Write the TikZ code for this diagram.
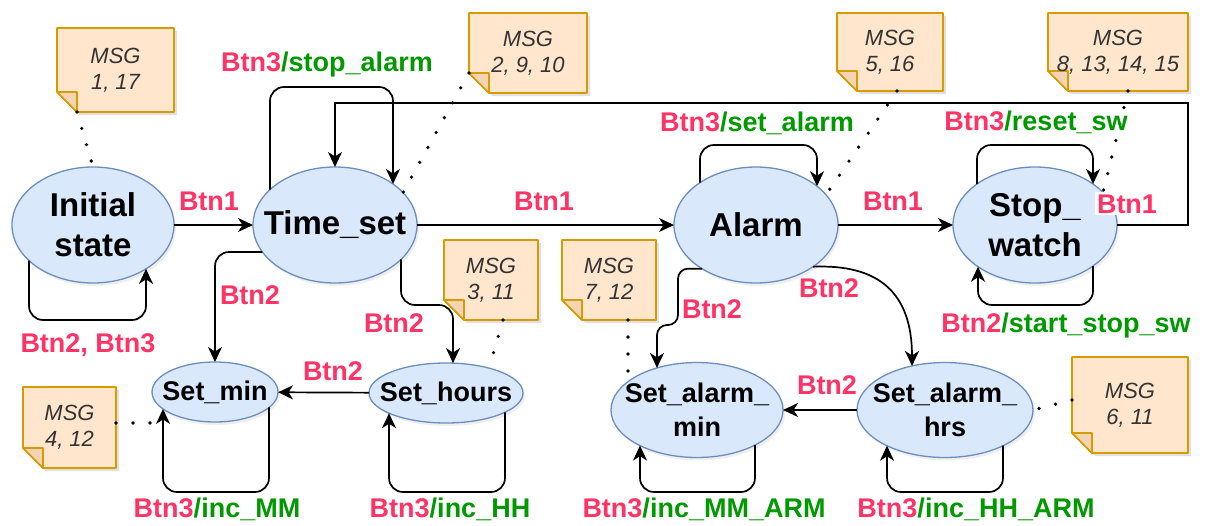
\documentclass[tikz,border=0pt]{standalone}
\usepackage{fontspec}
\setmainfont{Liberation Sans}
\usetikzlibrary{shapes.geometric,arrows.meta,calc,backgrounds,shadows}

\definecolor{pinkc}{HTML}{FF3366}
\definecolor{greenc}{HTML}{009900}
\definecolor{stfill}{HTML}{DAE8FC}
\definecolor{stline}{HTML}{6C8EBF}
\definecolor{ntfill}{HTML}{FFE6CC}
\definecolor{ntline}{HTML}{D79B00}
\definecolor{ntfold}{HTML}{F3D5B5}
\definecolor{nttext}{HTML}{333333}

% event (pink) / action (green) transition label
\newcommand\trlab[2]{\textcolor{pinkc}{#1}\textcolor{greenc}{#2}}

\tikzset{
  stnode/.style={ellipse, draw=stline, fill=stfill, line width=1.3pt,
    inner sep=0pt, outer sep=0pt,
    drop shadow={opacity=0.12, shadow xshift=2pt, shadow yshift=-3pt}},
  bigtxt/.style={font=\bfseries\fontsize{33}{40}\selectfont, align=center, inner sep=0pt},
  smalltxt/.style={font=\bfseries\fontsize{27}{34}\selectfont, align=center, inner sep=0pt},
  lbl/.style={font=\bfseries\fontsize{27}{32}\selectfont, text=pinkc, inner sep=1pt, anchor=base},
  arr/.style={draw=black, line width=1.7pt, rounded corners=14pt,
    -{Stealth[length=15pt,width=14pt,inset=4.5pt]}},
  dots/.style={draw=black, line width=3.6pt, line cap=round, dash pattern=on 0pt off 17pt},
  notetext/.style={inner sep=0pt, outer sep=0pt, align=center, text=nttext,
    font=\itshape\fontsize{22}{26}\selectfont},
  notebody/.style={fill=ntfill, draw=ntline, line width=1.6pt, line join=round},
  notefold/.style={fill=ntfold, draw=ntline, line width=1.6pt, line join=round},
}

% sticky note with a folded lower-left corner: name, centre, width, height, text
\newcommand\msgnote[5]{%
  \node[notetext, minimum width=#3, minimum height=#4] (#1) at (#2) {#5};
  \begin{pgfonlayer}{background}
    \fill[black, opacity=0.12, transform canvas={xshift=3pt,yshift=-3pt}]
      (#1.north west) -- (#1.north east) -- (#1.south east)
      -- ([xshift=20pt]#1.south west) -- ([yshift=20pt]#1.south west) -- cycle;
    \path[notebody] (#1.north west) -- (#1.north east) -- (#1.south east)
      -- ([xshift=20pt]#1.south west) -- ([yshift=20pt]#1.south west) -- cycle;
    \path[notefold] ([xshift=20pt]#1.south west) -- ([xshift=20pt,yshift=20pt]#1.south west)
      -- ([yshift=20pt]#1.south west) -- cycle;
  \end{pgfonlayer}}

\begin{document}
\begin{tikzpicture}[x=1pt,y=-1pt]
\begin{pgfonlayer}{background}
  \fill[white] (0,0) rectangle (1205,525);
\end{pgfonlayer}
\useasboundingbox (0,0) rectangle (1205,525);

% ---------- message notes ----------
\msgnote{n1}{115.5,70}{117pt}{84pt}{MSG\\1, 17}
\msgnote{n2}{528,53}{118pt}{80pt}{MSG\\2, 9, 10}
\msgnote{n3}{890,52}{106pt}{78pt}{MSG\\5, 16}
\msgnote{n4}{1118,52}{140pt}{78pt}{MSG\\8, 13, 14, 15}
\msgnote{n5}{491,280}{94pt}{80pt}{MSG\\3, 11}
\msgnote{n6}{609,280}{94pt}{80pt}{MSG\\7, 12}
\msgnote{n7}{69.5,427.5}{93pt}{81pt}{MSG\\4, 12}
\msgnote{n8}{1130,405}{116pt}{96pt}{MSG\\6, 11}

% ---------- states ----------
\node[stnode, minimum width=162pt, minimum height=116pt,
  label={[bigtxt]center:{Initial\\state}}] (init) at (93,225) {};
\node[stnode, minimum width=164pt, minimum height=116pt,
  label={[bigtxt]center:{Time\_set}}] (tset) at (335,225) {};
\node[stnode, minimum width=164pt, minimum height=116pt,
  label={[bigtxt]center:{Alarm}}] (alarm) at (756,225) {};
\node[stnode, minimum width=164pt, minimum height=116pt,
  label={[bigtxt]center:{Stop\_\\watch}}] (sw) at (1035,225) {};
\node[stnode, minimum width=126pt, minimum height=60pt,
  label={[smalltxt]center:{Set\_min}}] (smin) at (215,392) {};
\node[stnode, minimum width=154pt, minimum height=60pt,
  label={[smalltxt]center:{Set\_hours}}] (shrs) at (446,393) {};
\node[stnode, minimum width=172pt, minimum height=95pt,
  label={[smalltxt]center:{Set\_alarm\_\\min}}] (samin) at (697,410) {};
\node[stnode, minimum width=176pt, minimum height=95pt,
  label={[smalltxt]center:{Set\_alarm\_\\hrs}}] (sahrs) at (945,410) {};

% ---------- loop end points on the ellipses ----------
\coordinate (inL)  at ($(init)+(-64,{58*sqrt(1-(64/81)^2)})$);
\coordinate (inR)  at ($(init)+(53,{58*sqrt(1-(53/81)^2)})$);
\coordinate (tsL)  at ($(tset)+(-65,{-58*sqrt(1-(65/82)^2)})$);
\coordinate (tsR)  at ($(tset)+(58,{-58*sqrt(1-(58/82)^2)})$);
\coordinate (alL)  at ($(alarm)+(-56,{-58*sqrt(1-(56/82)^2)})$);
\coordinate (alR)  at ($(alarm)+(61,{-58*sqrt(1-(61/82)^2)})$);
\coordinate (swL)  at ($(sw)+(-58,{-58*sqrt(1-(58/82)^2)})$);
\coordinate (swR)  at ($(sw)+(58,{-58*sqrt(1-(58/82)^2)})$);
\coordinate (swBL) at ($(sw)+(-57,{58*sqrt(1-(57/82)^2)})$);
\coordinate (swBR) at ($(sw)+(58,{58*sqrt(1-(58/82)^2)})$);
\coordinate (smL)  at ($(smin)+(-52,{30*sqrt(1-(52/63)^2)})$);
\coordinate (smR)  at ($(smin)+(54,{30*sqrt(1-(54/63)^2)})$);
\coordinate (shL)  at ($(shrs)+(-57,{30*sqrt(1-(57/77)^2)})$);
\coordinate (shR)  at ($(shrs)+(59,{30*sqrt(1-(59/77)^2)})$);
\coordinate (saL)  at ($(samin)+(-57,{47.5*sqrt(1-(57/86)^2)})$);
\coordinate (saR)  at ($(samin)+(58,{47.5*sqrt(1-(58/86)^2)})$);
\coordinate (shaL) at ($(sahrs)+(-58,{47.5*sqrt(1-(58/88)^2)})$);
\coordinate (shaR) at ($(sahrs)+(58,{47.5*sqrt(1-(58/88)^2)})$);

% ---------- transitions ----------
\draw[arr] (init) -- (tset);
\draw[arr] (tset) -- (alarm);
\draw[arr] (alarm) -- (sw);
\coordinate (rtn) at (1188,103);
\draw[arr, rounded corners=0pt] (sw.east) -| (rtn) -| (tset.north);

\draw[arr] (inL) -- (inL |- 0,320) -- (inR |- 0,320) -- (inR);
\draw[arr] (tsL) -- (tsL |- 0,87) -- (tsR |- 0,87) -- (tsR);
\draw[arr] (alL) -- (alL |- 0,145) -- (alR |- 0,145) -- (alR);
\draw[arr] (swL) -- (swL |- 0,145) -- (swR |- 0,145) -- (swR);
\draw[arr] (swBR) -- (swBR |- 0,305) -- (swBL |- 0,305) -- (swBL);
\draw[arr] (smR) -- (smR |- 0,492) -- (smL |- 0,492) -- (smL);
\draw[arr] (shR) -- (shR |- 0,492) -- (shL |- 0,492) -- (shL);
\draw[arr] (saR) -- (saR |- 0,492) -- (saL |- 0,492) -- (saL);
\draw[arr] (shaR) -- (shaR |- 0,492) -- (shaL |- 0,492) -- (shaL);

\coordinate (tsSM) at ($(tset)+({-82*sqrt(1-(27/58)^2)},27)$);
\draw[arr] (tsSM) -| (smin.north);
\coordinate (tsSH) at ($(tset)+(66,{58*sqrt(1-(66/82)^2)})$);
\coordinate (shT) at ($(shrs)+(7,{-30*sqrt(1-(7/77)^2)})$);
\draw[arr] (tsSH) -- (tsSH |- 0,305) -- (shT |- 0,305) -- (shT);
\draw[arr] (shrs) -- (smin);

\coordinate (alSA) at ($(alarm)+(-54,{58*sqrt(1-(54/82)^2)})$);
\coordinate (saT) at ($(samin)+(-40,{-47.5*sqrt(1-(40/86)^2)})$);
\draw[arr, rounded corners=10pt] (alSA) -| (678,325) -| (saT);
\coordinate (alSH) at ($(alarm)+(57,{58*sqrt(1-(57/82)^2)})$);
\coordinate (shaT) at ($(sahrs)+(-33,{-47.5*sqrt(1-(33/88)^2)})$);
\draw[arr] (alSH) .. controls (878,264) and (912,292) .. (shaT);
\draw[arr] (sahrs) -- (samin);

% ---------- note links ----------
\draw[dots] ([xshift=20pt]n1.south west) -- (init.north);
\draw[dots] ([yshift=20pt]n2.south west) -- ($(tset)+(68,{-58*sqrt(1-(68/82)^2)})$);
\draw[dots] ([xshift=7pt]n3.south) -- ($(alarm)+(70,{-58*sqrt(1-(70/82)^2)})$);
\draw[dots] ([xshift=10pt]n4.south) -- ($(sw)+(68,{-58*sqrt(1-(68/82)^2)})$);
\draw[dots] ([xshift=12pt]n5.south) -- ($(shrs)+(43,{-30*sqrt(1-(43/77)^2)})$);
\draw[dots] ([xshift=19pt]n6.south) -- ($(samin)+(-69,{-47.5*sqrt(1-(69/86)^2)})$);
\coordinate (smDot) at (156,423);
\draw[dots] ([yshift=4.5pt]n7.east) -- (smDot);
\draw[dots] ([yshift=5pt]n8.west) -- (sahrs.east);

% ---------- transition labels ----------
\node[lbl] (l1)  at (209,210) {Btn1};
\node[lbl] (l2)  at (327,71)  {\trlab{Btn3}{/stop\_alarm}};
\node[lbl] (l3)  at (544,210) {Btn1};
\node[lbl] (l4)  at (757,131) {\trlab{Btn3}{/set\_alarm}};
\node[lbl] (l5)  at (893,210) {Btn1};
\node[lbl] (l6)  at (1036,130) {\trlab{Btn3}{/reset\_sw}};
\node[lbl, fill=white, inner sep=2pt] (l7) at (1127,213) {Btn1};
\node[lbl] (l8)  at (88,352)  {Btn2, Btn3};
\node[lbl] (l9)  at (250,304) {Btn2};
\node[lbl] (l10) at (394,332) {Btn2};
\node[lbl] (l11) at (333,380) {Btn2};
\node[lbl] (l12) at (217,517) {\trlab{Btn3}{/inc\_MM}};
\node[lbl] (l13) at (450,517) {\trlab{Btn3}{/inc\_HH}};
\node[lbl] (l14) at (712,318) {Btn2};
\node[lbl] (l15) at (829,297) {Btn2};
\node[lbl] (l16) at (827,394) {Btn2};
\node[lbl] (l17) at (704,517) {\trlab{Btn3}{/inc\_MM\_ARM}};
\node[lbl] (l18) at (976,517) {\trlab{Btn3}{/inc\_HH\_ARM}};
\node[lbl] (l19) at (1066,332) {\trlab{Btn2}{/start\_stop\_sw}};
\end{tikzpicture}
\end{document}
